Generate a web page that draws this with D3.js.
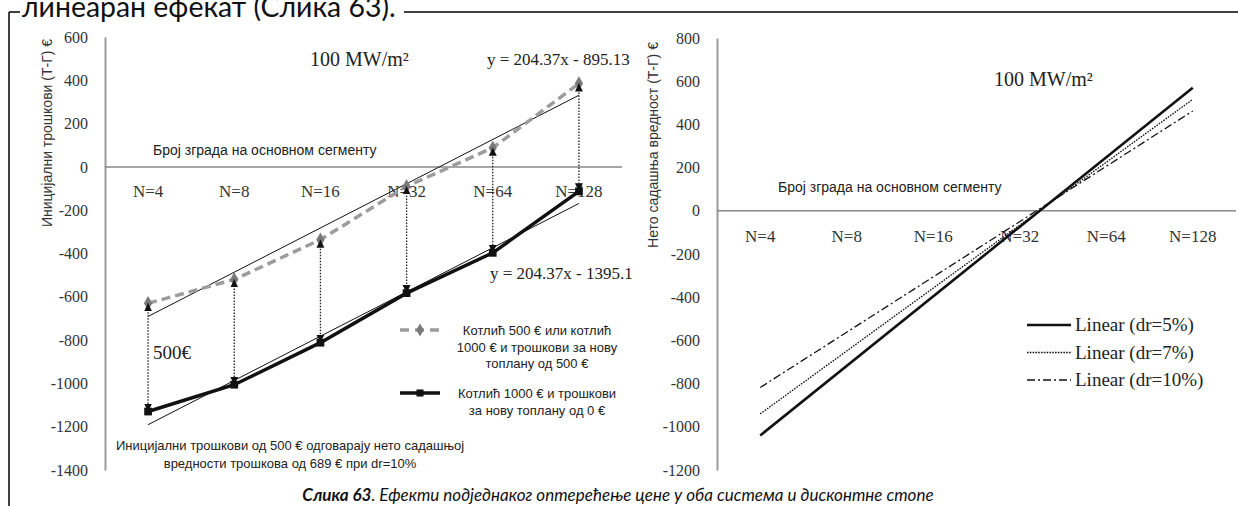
<!DOCTYPE html>
<html><head><meta charset="utf-8">
<script src="https://cdn.jsdelivr.net/npm/d3@7"></script>
<style>body{margin:0;background:#fff}svg{display:block}</style>
</head><body><svg id="c" width="1238" height="506"></svg>
<script>
// ---------- data ----------
const categories = ["N=4", "N=8", "N=16", "N=32", "N=64", "N=128"];
const boiler500 = [-630, -520, -336, -90, 88, 385];        // dashed grey series
const boiler1000 = [-1130, -1006, -812, -583, -397, -113]; // solid black series
const trendUpper = { slope: 204.37, intercept: -895.13, label: "y = 204.37x - 895.13" };
const trendLower = { slope: 204.37, intercept: -1395.1, label: "y = 204.37x - 1395.1" };
const yTicksLeft = [600, 400, 200, 0, -200, -400, -600, -800, -1000, -1200, -1400];
const yTicksRight = [800, 600, 400, 200, 0, -200, -400, -600, -800, -1000, -1200];
// right chart: linear trend values at N=4 and N=128
const dr5 = [-1040, 570];
const dr7 = [-940, 516];
const dr10 = [-818, 462];
const drLabels = ["Linear (dr=5%)", "Linear (dr=7%)", "Linear (dr=10%)"];
const legendLeft = [
  ["Котлић 500 € или котлић", "1000 € и трошкови за нову", "топлану од 500 €"],
  ["Котлић 1000 € и трошкови", "за нову топлану од 0 €"]
];
const noteLines = ["Иницијални трошкови од 500 € одговарају нето садашњој", "вредности трошкова од 689 € при dr=10%"];

// ---------- setup ----------
const svg = d3.select("#c");
const serif = "'Liberation Serif','Times New Roman',serif";
const sans = "'Liberation Sans',Arial,sans-serif";
const calib = "Lato,'Open Sans',sans-serif";
function fit(sel, width) {
  const w = sel.node().getComputedTextLength();
  const fs = parseFloat(sel.attr("font-size"));
  sel.attr("font-size", fs * width / w);
}
const defs = svg.append("defs");
defs.append("marker").attr("id", "arr").attr("viewBox", "0 0 10 10")
  .attr("refX", 10).attr("refY", 5).attr("markerWidth", 8).attr("markerHeight", 9)
  .attr("markerUnits", "userSpaceOnUse").attr("orient", "auto-start-reverse")
  .append("path").attr("d", "M0,0 L10,5 L0,10 Z").attr("fill", "#111");

// frame
svg.append("line").attr("x1", 9).attr("y1", 12).attr("x2", 1238).attr("y2", 12).attr("stroke", "#000").attr("stroke-width", 1.5);
svg.append("line").attr("x1", 9).attr("y1", 12).attr("x2", 9).attr("y2", 506).attr("stroke", "#000").attr("stroke-width", 1.5);
svg.append("rect").attr("x", 20).attr("y", 0).attr("width", 384).attr("height", 20).attr("fill", "#fff");
const topText = svg.append("text").attr("x", 22).attr("y", 17).attr("font-family", calib)
  .attr("font-size", 28).attr("fill", "#111").text("линеаран ефекат (Слика 63).");
fit(topText, 374);

// ---------- left chart ----------
const xL = d3.scalePoint().domain(categories).range([105, 622]).padding(0.5);
const yL = d3.scaleLinear().domain([-1400, 600]).range([470, 37]);

const axL = svg.append("g").attr("transform", "translate(105,0)")
  .call(d3.axisLeft(yL).tickValues(yTicksLeft).tickSize(0).tickPadding(17).tickFormat(d => String(d)));
axL.attr("font-family", null).attr("font-size", null);
axL.select(".domain").attr("stroke", "#9a9a9a").attr("stroke-width", 2);
axL.selectAll("text").attr("font-family", serif).attr("font-size", 16).attr("fill", "#333");

svg.append("line").attr("x1", 105).attr("x2", 622).attr("y1", yL(0)).attr("y2", yL(0)).attr("stroke", "#888").attr("stroke-width", 1.5);

svg.append("text").attr("transform", "translate(52,133) rotate(-90)").attr("text-anchor", "middle")
  .attr("font-family", sans).attr("font-size", 14).attr("fill", "#333").text("Иницијални трошкови (Т-Г) €");

svg.append("text").attr("x", 153).attr("y", 155).attr("font-family", sans).attr("font-size", 14).attr("fill", "#222")
  .text("Број зграда на основном сегменту");

svg.append("g").selectAll("text").data(categories).join("text")
  .attr("x", d => xL(d)).attr("y", 197).attr("text-anchor", "middle")
  .attr("font-family", serif).attr("font-size", 17).attr("fill", "#333").text(d => d);

svg.append("text").attr("x", 310).attr("y", 66).attr("font-family", serif).attr("font-size", 20).attr("fill", "#222").text("100 MW/m²");
svg.append("text").attr("x", 487).attr("y", 65).attr("font-family", serif).attr("font-size", 17).attr("fill", "#222").text(trendUpper.label);
svg.append("text").attr("x", 490).attr("y", 279).attr("font-family", serif).attr("font-size", 17).attr("fill", "#222").text(trendLower.label);
svg.append("text").attr("x", 153).attr("y", 359).attr("font-family", serif).attr("font-size", 19).attr("fill", "#222").text("500€");

// trend lines (from the chart's equations, x = 1..6)
[trendUpper, trendLower].forEach(t => {
  const pts = [0, categories.length - 1].map(i => [xL(categories[i]), yL(t.slope * (i + 1) + t.intercept)]);
  svg.append("path").attr("d", d3.line()(pts)).attr("stroke", "#111").attr("stroke-width", 1).attr("fill", "none");
});

const lineL = d3.line().x((d, i) => xL(categories[i])).y(d => yL(d));
svg.append("path").attr("d", lineL(boiler500)).attr("fill", "none").attr("stroke", "#9c9c9c").attr("stroke-width", 3.5).attr("stroke-dasharray", "9,5");
svg.append("path").attr("d", lineL(boiler1000)).attr("fill", "none").attr("stroke", "#111").attr("stroke-width", 3.5);

svg.append("g").selectAll("path").data(boiler500).join("path")
  .attr("transform", (d, i) => `translate(${xL(categories[i])},${yL(d)})`)
  .attr("d", d3.symbol(d3.symbolDiamond, 60)).attr("fill", "#7a7a7a");
svg.append("g").selectAll("path").data(boiler1000).join("path")
  .attr("transform", (d, i) => `translate(${xL(categories[i])},${yL(d)})`)
  .attr("d", d3.symbol(d3.symbolSquare, 60)).attr("fill", "#111");

// dotted double arrows between series
svg.append("g").selectAll("line").data(categories).join("line")
  .attr("x1", d => xL(d)).attr("x2", d => xL(d))
  .attr("y1", (d, i) => yL(boiler500[i])).attr("y2", (d, i) => yL(boiler1000[i]))
  .attr("stroke", "#222").attr("stroke-width", 1.3).attr("stroke-dasharray", "1.5,1.5")
  .attr("marker-start", "url(#arr)").attr("marker-end", "url(#arr)");

// left legend
const lg = svg.append("g");
lg.append("line").attr("x1", 400).attr("x2", 440).attr("y1", 330).attr("y2", 330).attr("stroke", "#9c9c9c").attr("stroke-width", 3.5).attr("stroke-dasharray", "9,6");
lg.append("path").attr("transform", "translate(420,330)").attr("d", d3.symbol(d3.symbolDiamond, 50)).attr("fill", "#7a7a7a");
lg.append("line").attr("x1", 400).attr("x2", 440).attr("y1", 393).attr("y2", 393).attr("stroke", "#111").attr("stroke-width", 3.5);
lg.append("path").attr("transform", "translate(420,393)").attr("d", d3.symbol(d3.symbolSquare, 50)).attr("fill", "#111");
legendLeft[0].forEach((t, i) => lg.append("text").attr("x", 537).attr("y", 335 + i * 16.5).attr("text-anchor", "middle")
  .attr("font-family", sans).attr("font-size", 13).attr("fill", "#222").text(t));
legendLeft[1].forEach((t, i) => lg.append("text").attr("x", 537).attr("y", 398 + i * 16.5).attr("text-anchor", "middle")
  .attr("font-family", sans).attr("font-size", 13).attr("fill", "#222").text(t));

noteLines.forEach((t, i) => svg.append("text").attr("x", 290).attr("y", 450 + i * 18).attr("text-anchor", "middle")
  .attr("font-family", sans).attr("font-size", 13).attr("fill", "#222").text(t));

// ---------- right chart ----------
const xR = d3.scalePoint().domain(categories).range([717, 1236]).padding(0.5);
const yR = d3.scaleLinear().domain([-1200, 800]).range([470, 38]);

const axR = svg.append("g").attr("transform", "translate(717,0)")
  .call(d3.axisLeft(yR).tickValues(yTicksRight).tickSize(0).tickPadding(17).tickFormat(d => String(d)));
axR.attr("font-family", null).attr("font-size", null);
axR.select(".domain").attr("stroke", "#9a9a9a").attr("stroke-width", 2);
axR.selectAll("text").attr("font-family", serif).attr("font-size", 16).attr("fill", "#333");

svg.append("line").attr("x1", 717).attr("x2", 1236).attr("y1", yR(0)).attr("y2", yR(0)).attr("stroke", "#888").attr("stroke-width", 1.5);

svg.append("text").attr("transform", "translate(658,145) rotate(-90)").attr("text-anchor", "middle")
  .attr("font-family", sans).attr("font-size", 14).attr("fill", "#333").text("Нето садашња вредност (Т-Г) €");

svg.append("text").attr("x", 778).attr("y", 192).attr("font-family", sans).attr("font-size", 14).attr("fill", "#222")
  .text("Број зграда на основном сегменту");

svg.append("g").selectAll("text").data(categories).join("text")
  .attr("x", d => xR(d)).attr("y", 242).attr("text-anchor", "middle")
  .attr("font-family", serif).attr("font-size", 17).attr("fill", "#333").text(d => d);

svg.append("text").attr("x", 994).attr("y", 86).attr("font-family", serif).attr("font-size", 20).attr("fill", "#222").text("100 MW/m²");

const drSeries = [
  { vals: dr5, w: 2.6, dash: null },
  { vals: dr7, w: 1.3, dash: "1.6,1.2" },
  { vals: dr10, w: 1.3, dash: "8,3,2,3" }
];
const ends = [categories[0], categories[categories.length - 1]];
const lineR = d3.line().x((d, i) => xR(ends[i])).y(d => yR(d));
drSeries.forEach(s => {
  svg.append("path").attr("d", lineR(s.vals)).attr("fill", "none").attr("stroke", "#111")
    .attr("stroke-width", s.w).attr("stroke-dasharray", s.dash);
});

drSeries.forEach((s, i) => {
  const y = 325 + i * 27.5;
  svg.append("line").attr("x1", 1027).attr("x2", 1071).attr("y1", y).attr("y2", y).attr("stroke", "#111")
    .attr("stroke-width", s.w).attr("stroke-dasharray", s.dash);
  svg.append("text").attr("x", 1075).attr("y", y + 6).attr("font-family", serif).attr("font-size", 19).attr("fill", "#222").text(drLabels[i]);
});

// ---------- caption ----------
const cap = svg.append("text").attr("x", 618).attr("y", 501).attr("text-anchor", "middle")
  .attr("font-family", calib).attr("font-size", 17).attr("font-style", "italic").attr("fill", "#111");
cap.append("tspan").attr("font-weight", "bold").text("Слика 63");
cap.append("tspan").text(". Ефекти подједнаког оптерећење цене у оба система и дисконтне стопе");
fit(cap, 632);
</script></body></html>
